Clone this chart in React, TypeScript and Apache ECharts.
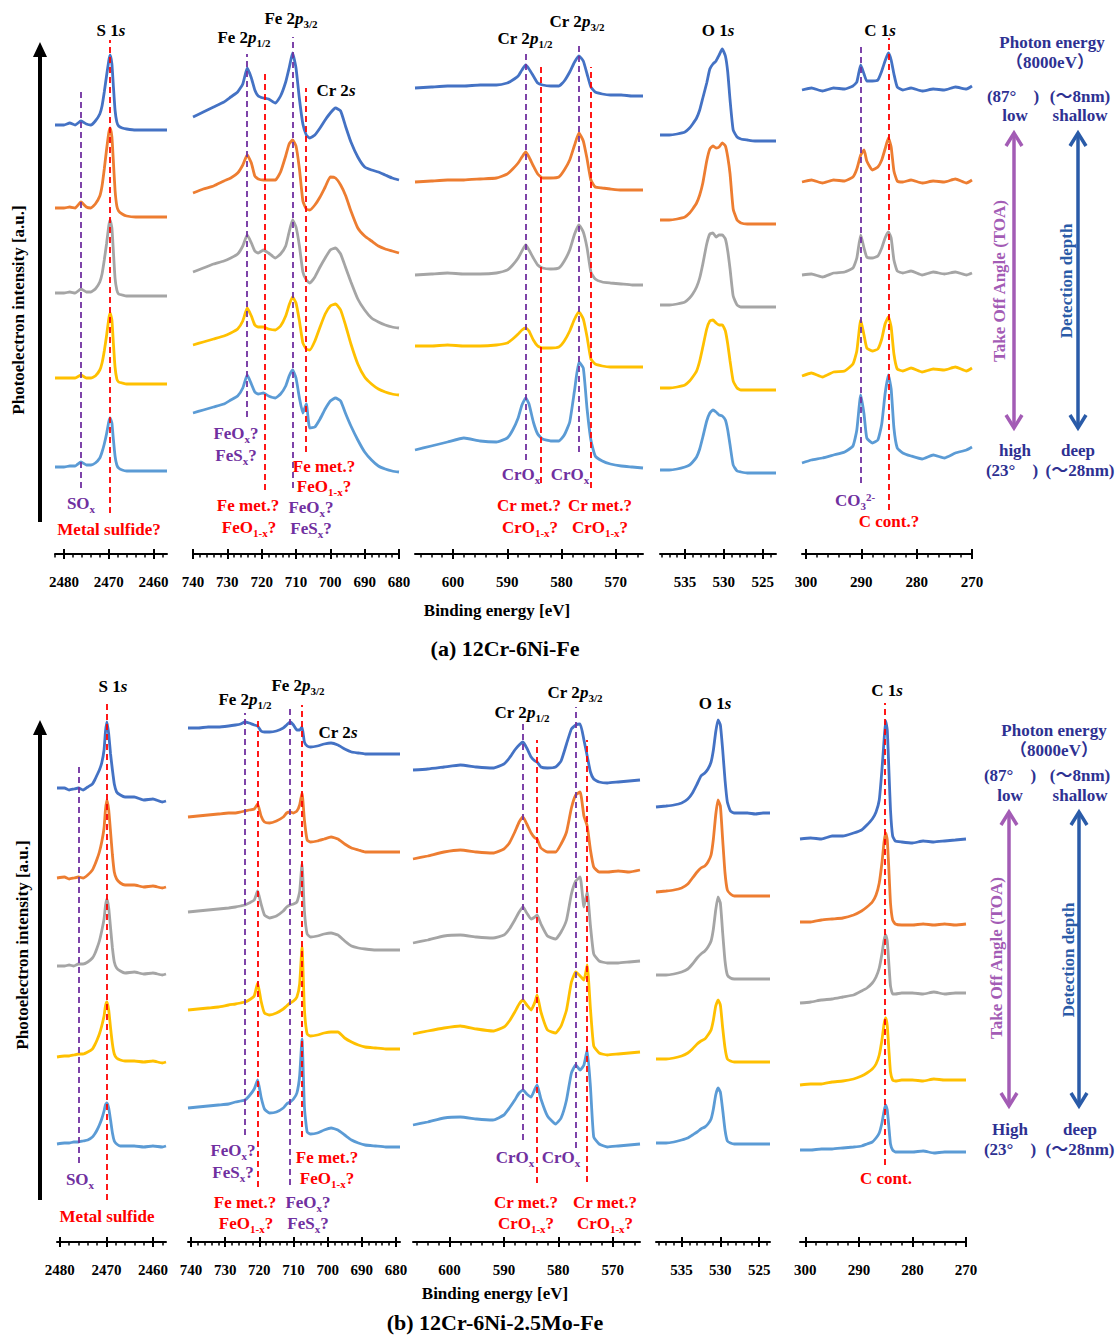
import React, { useEffect, useRef } from 'react';
import * as echarts from 'echarts';

const SERIF = '"Liberation Serif", "Times New Roman", "Noto Sans CJK JP", serif';
const COLORS = ['#4472C4', '#ED7D31', '#A5A5A5', '#FFC000', '#5B9BD5'];
const PURPLE = '#7030A0';
const RED = '#FF0000';
const NAVY = '#2E3192';
const TOA_C = '#A35CB5';
const DEPTH_C = '#2A5BA8';

// ---------- tick labels ----------
const S_TICKS = [2480, 2470, 2460];
const FE_TICKS = [740, 730, 720, 710, 700, 690, 680];
const CR_TICKS = [600, 590, 580, 570];
const O_TICKS = [535, 530, 525];
const C_TICKS = [300, 290, 280, 270];

// ---------- (a) 12Cr-6Ni-Fe : curves ordered [top(blue), orange, gray, yellow, bottom(light blue)] ----------
const S_A_E = [2482, 2480, 2478.7, 2477.5, 2476.2, 2475, 2474, 2473, 2472, 2471.5, 2471, 2470.5, 2470, 2469.7, 2469.3, 2469, 2468.6, 2468.2, 2467.8, 2467, 2466, 2464, 2462, 2460, 2458, 2457];
const S_A_BLUE = [8.9, 8.9, 9.1, 8.9, 9.3, 9.0, 8.9, 9.3, 10.0, 10.8, 12.2, 13.8, 15.3, 15.9, 15.0, 13.0, 10.4, 9.2, 8.8, 8.6, 8.5, 8.4, 8.4, 8.4, 8.4, 8.4];
const S_A_ORANGE = [9.1, 9.1, 9.2, 9.1, 9.7, 9.2, 9.1, 9.5, 10.3, 11.3, 13.0, 14.9, 16.6, 17.1, 16.2, 14.0, 10.9, 9.3, 8.8, 8.5, 8.3, 8.2, 8.2, 8.2, 8.2, 8.2];
const S_A_GRAY = [9.1, 9.1, 9.2, 9.1, 9.5, 9.2, 9.2, 9.5, 10.2, 11.0, 12.4, 14.0, 15.8, 16.4, 15.6, 13.5, 10.6, 9.4, 9.0, 8.9, 8.8, 8.8, 8.8, 8.8, 8.8, 8.8];
const S_A_YELLOW = [9.1, 9.1, 9.1, 9.1, 9.4, 9.1, 9.1, 9.3, 9.9, 10.6, 11.8, 13.3, 15.0, 15.6, 14.9, 12.8, 10.2, 9.0, 8.7, 8.6, 8.5, 8.5, 8.5, 8.5, 8.5, 8.5];
const S_A_LBLUE = [8.7, 8.7, 8.8, 8.8, 9.2, 8.9, 8.9, 9.1, 9.6, 10.2, 11.0, 12.0, 13.2, 13.6, 13.1, 11.6, 9.8, 8.9, 8.6, 8.4, 8.3, 8.3, 8.3, 8.3, 8.3, 8.3];

const FE_A_E = [740, 737, 734, 731, 729, 727, 725.5, 724.2, 723, 722, 721, 719.5, 718, 716, 714.5, 713, 712, 711, 710, 709, 708, 707, 706, 704.5, 703, 701.5, 700, 698.5, 697, 695.5, 694, 692, 690, 688, 686, 684, 682, 680];
const FE_A_BLUE = [9.7, 10.2, 10.7, 11.2, 11.7, 12.2, 13.0, 14.6, 13.6, 12.4, 11.8, 11.6, 11.5, 11.1, 11.8, 13.2, 14.6, 16.1, 14.6, 11.5, 9.0, 7.9, 7.6, 7.9, 8.6, 9.4, 10.1, 10.6, 10.3, 8.7, 7.2, 5.7, 4.7, 4.4, 4.2, 3.9, 3.6, 3.4];
const FE_A_ORANGE = [10.6, 11.0, 11.3, 11.8, 12.1, 12.6, 13.4, 14.4, 13.6, 12.3, 12.0, 11.9, 11.9, 11.9, 12.7, 14.3, 15.5, 15.9, 15.3, 13.0, 9.8, 9.0, 8.9, 9.4, 10.2, 11.2, 12.2, 12.1, 11.4, 10.3, 8.8, 7.1, 6.3, 5.8, 5.3, 5.0, 4.8, 4.6];
const FE_A_GRAY = [11.2, 11.6, 12.0, 12.3, 12.6, 13.0, 13.8, 14.9, 14.1, 13.3, 13.1, 13.4, 13.1, 12.6, 13.0, 13.8, 15.2, 16.4, 15.7, 13.8, 11.2, 10.4, 10.1, 10.7, 11.7, 12.6, 13.4, 13.6, 13.0, 11.6, 10.2, 8.5, 7.4, 6.6, 6.2, 5.9, 5.7, 5.6];
const FE_A_YELLOW = [12.4, 12.7, 13.0, 13.3, 13.6, 14.0, 14.8, 16.1, 15.3, 14.4, 14.2, 14.2, 14.0, 13.9, 14.3, 15.3, 16.4, 17.2, 16.6, 14.8, 12.6, 12.0, 11.9, 12.8, 14.2, 15.5, 16.3, 16.5, 15.9, 14.3, 12.5, 10.5, 9.2, 8.5, 8.0, 7.7, 7.5, 7.4];
const FE_A_LBLUE = [14.1, 14.4, 14.7, 15.0, 15.4, 15.8, 16.6, 17.9, 17.0, 16.2, 16.0, 16.1, 15.8, 15.6, 16.0, 16.8, 17.8, 18.4, 17.6, 15.6, 14.1, 15.0, 12.6, 12.7, 13.5, 14.5, 15.3, 15.6, 15.3, 14.0, 12.8, 11.4, 10.2, 9.4, 8.8, 8.5, 8.3, 8.2];

const CR_A_E = [607, 604, 601, 598, 595, 592, 590, 589, 588, 587.3, 586.6, 586, 585.2, 584.4, 583.5, 582, 580.5, 579.5, 578.5, 577.6, 576.8, 576, 575.3, 574.6, 573.8, 572.5, 571, 569, 567, 565];
const CR_A_BLUE = [12.6, 12.7, 12.8, 12.8, 12.9, 12.9, 13.1, 13.4, 13.8, 14.4, 14.9, 14.5, 13.8, 13.1, 12.9, 12.8, 12.8, 13.3, 14.2, 15.2, 15.8, 15.3, 14.0, 12.7, 12.2, 12.0, 11.9, 11.9, 11.8, 11.8];
const CR_A_ORANGE = [11.7, 11.8, 11.9, 11.9, 12.0, 12.1, 12.5, 13.0, 13.6, 14.2, 14.7, 14.2, 13.3, 12.5, 12.1, 12.1, 12.2, 12.9, 13.9, 15.4, 16.6, 15.8, 14.0, 11.9, 11.2, 11.1, 11.0, 10.9, 10.9, 10.9];
const CR_A_GRAY = [10.9, 11.0, 11.1, 11.0, 11.0, 11.1, 11.4, 11.9, 12.6, 13.3, 13.9, 13.4, 12.6, 11.9, 11.6, 11.5, 11.6, 12.3, 13.4, 15.0, 15.9, 15.2, 13.6, 11.2, 10.5, 10.2, 10.1, 10.0, 9.9, 9.9];
const CR_A_YELLOW = [12.3, 12.3, 12.4, 12.3, 12.3, 12.4, 12.6, 13.0, 13.5, 13.9, 14.1, 13.8, 12.9, 12.3, 12.1, 12.1, 12.2, 12.8, 13.8, 15.0, 15.7, 15.0, 13.2, 11.0, 10.5, 10.3, 10.2, 10.2, 10.2, 10.2];
const CR_A_LBLUE = [10.4, 10.8, 11.2, 11.6, 11.3, 11.2, 11.6, 12.4, 13.6, 14.9, 15.6, 15.0, 13.2, 12.0, 11.5, 11.3, 11.3, 11.9, 13.2, 16.4, 19.2, 18.6, 14.5, 11.4, 9.8, 9.3, 9.0, 8.8, 8.7, 8.6];

const O_A_E = [538.2, 537, 536, 535, 534.4, 534, 533.5, 533.1, 532.7, 532.2, 531.8, 531.4, 531, 530.6, 530.2, 529.8, 529.5, 529.2, 528.8, 528.3, 527.8, 527, 526, 525, 524, 523.3];
const O_A_BLUE = [7.9, 7.9, 8.0, 8.2, 8.6, 9.0, 9.6, 10.4, 11.6, 13.1, 14.5, 15.0, 15.3, 15.9, 16.5, 15.8, 14.2, 11.4, 8.4, 7.7, 7.5, 7.4, 7.3, 7.3, 7.3, 7.3];
const O_A_ORANGE = [7.9, 7.9, 8.0, 8.2, 8.6, 9.0, 9.6, 10.4, 11.6, 13.8, 15.0, 15.3, 15.1, 15.2, 15.6, 15.3, 14.2, 12.5, 9.0, 7.9, 7.6, 7.5, 7.5, 7.5, 7.5, 7.5];
const O_A_GRAY = [7.9, 7.9, 8.0, 8.2, 8.6, 9.0, 9.7, 10.6, 12.0, 14.0, 15.0, 15.1, 14.7, 14.9, 14.9, 14.5, 13.3, 11.5, 8.8, 7.9, 7.7, 7.7, 7.7, 7.7, 7.7, 7.7];
const O_A_YELLOW = [8.1, 8.1, 8.2, 8.4, 8.8, 9.2, 9.8, 10.8, 12.2, 14.0, 14.8, 14.9, 14.6, 14.4, 14.4, 13.8, 12.5, 10.8, 8.8, 8.1, 7.9, 7.9, 7.9, 7.9, 7.9, 7.9];
const O_A_LBLUE = [8.4, 8.4, 8.5, 8.7, 8.9, 9.2, 9.7, 10.5, 11.7, 13.3, 14.1, 14.4, 14.2, 13.9, 13.8, 13.4, 12.4, 10.9, 8.9, 8.3, 8.2, 8.1, 8.1, 8.1, 8.1, 8.1];

const C_A_E = [300.7, 299, 297, 295, 293, 291.5, 290.8, 290.1, 289.5, 289, 288, 287, 286.3, 285.7, 285.1, 284.6, 284.1, 283.5, 282.5, 281, 279, 277, 275, 273, 271, 270];
const C_A_BLUE = [12.4, 12.6, 12.3, 12.6, 12.5, 12.8, 13.2, 14.9, 14.0, 13.3, 13.3, 13.4, 14.3, 15.3, 16.1, 15.4, 14.0, 12.7, 12.4, 12.6, 12.3, 12.5, 12.4, 12.7, 12.5, 12.8];
const C_A_ORANGE = [11.7, 11.9, 11.6, 11.9, 11.8, 12.2, 13.0, 14.4, 14.9, 13.8, 12.9, 13.2, 13.9, 15.0, 16.1, 15.2, 12.8, 11.8, 11.7, 11.9, 11.6, 11.8, 11.7, 12.0, 11.6, 11.9];
const C_A_GRAY = [10.9, 11.0, 10.7, 11.1, 11.2, 11.6, 12.6, 14.9, 13.6, 12.7, 12.6, 12.8, 13.6, 14.6, 15.2, 14.6, 12.4, 11.3, 11.1, 11.3, 10.9, 11.2, 11.0, 11.2, 10.9, 11.1];
const C_A_YELLOW = [9.3, 9.6, 9.2, 9.7, 9.8, 10.5, 11.8, 14.9, 13.4, 12.1, 11.8, 12.0, 13.0, 14.5, 15.2, 14.2, 11.5, 10.0, 9.8, 10.1, 9.7, 10.0, 9.9, 10.2, 9.8, 10.1];
const C_A_LBLUE = [9.1, 9.4, 9.6, 9.9, 10.2, 10.8, 12.4, 15.9, 14.0, 11.6, 11.1, 11.4, 13.0, 16.0, 17.9, 16.5, 12.6, 10.6, 10.1, 9.8, 9.5, 9.9, 9.6, 10.1, 10.4, 10.7];

// ---------- (b) 12Cr-6Ni-2.5Mo-Fe ----------
const S_B_E = [2480.6, 2479, 2478, 2477, 2476, 2475, 2474, 2473, 2472.5, 2472, 2471.5, 2471, 2470.5, 2470.2, 2469.9, 2469.5, 2469.1, 2468.7, 2468.3, 2467.8, 2467, 2466, 2464, 2462, 2460, 2458, 2457.2];
const S_B_BLUE = [10.2, 10.2, 10.0, 10.1, 10.2, 10.0, 10.3, 10.6, 11.0, 11.5, 12.0, 12.7, 14.0, 15.8, 16.8, 15.6, 13.6, 12.0, 10.6, 9.8, 9.5, 9.3, 9.3, 9.0, 9.1, 8.8, 8.9];
const S_B_ORANGE = [10.0, 10.1, 9.9, 10.0, 10.1, 10.0, 10.3, 10.8, 11.3, 11.9, 12.6, 13.6, 15.0, 16.8, 17.8, 16.8, 14.6, 12.3, 10.6, 9.9, 9.5, 9.3, 9.3, 9.1, 9.2, 9.0, 9.1];
const S_B_GRAY = [10.0, 10.0, 10.1, 10.0, 10.2, 10.2, 10.4, 10.8, 11.2, 11.8, 12.5, 13.5, 14.7, 16.0, 16.7, 15.8, 13.8, 11.8, 10.4, 9.8, 9.5, 9.3, 9.4, 9.2, 9.3, 9.1, 9.2];
const S_B_YELLOW = [9.7, 9.8, 9.8, 9.9, 10.0, 10.0, 10.2, 10.5, 10.9, 11.4, 12.0, 12.8, 13.8, 14.8, 15.2, 14.4, 12.6, 11.0, 10.0, 9.6, 9.4, 9.3, 9.3, 9.2, 9.3, 9.1, 9.2];
const S_B_LBLUE = [9.8, 9.9, 9.9, 10.0, 10.0, 10.1, 10.2, 10.5, 10.8, 11.2, 11.7, 12.3, 13.1, 13.7, 13.9, 13.4, 12.2, 10.9, 10.1, 9.8, 9.6, 9.6, 9.6, 9.5, 9.6, 9.5, 9.6];

const FE_B_E = [740.9, 738, 735, 732, 729, 727, 725.5, 724.2, 723, 721.5, 720.5, 719.5, 718.5, 717, 715, 713, 712, 711, 710, 709, 708.2, 707.5, 706.8, 706, 705, 703, 701, 699, 697, 695, 693, 691, 689, 686, 683, 680, 678.8];
const FE_B_BLUE = [16.2, 16.2, 16.3, 16.3, 16.4, 16.5, 16.6, 16.8, 16.7, 16.5, 16.4, 15.9, 15.8, 15.8, 15.9, 16.2, 16.5, 16.8, 16.5, 16.0, 16.0, 16.3, 14.8, 14.4, 14.3, 14.4, 14.6, 14.7, 14.5, 14.1, 13.8, 13.7, 13.6, 13.6, 13.6, 13.6, 13.6];
const FE_B_ORANGE = [16.1, 16.2, 16.3, 16.4, 16.5, 16.5, 16.6, 16.7, 16.8, 16.9, 17.4, 16.2, 15.6, 15.5, 15.7, 16.1, 16.5, 16.6, 16.5, 16.7, 17.3, 18.5, 15.8, 13.8, 13.6, 13.7, 13.9, 14.1, 13.9, 13.4, 13.0, 12.8, 12.6, 12.6, 12.6, 12.6, 12.6];
const FE_B_GRAY = [15.4, 15.5, 15.6, 15.7, 15.8, 15.9, 16.0, 16.1, 16.3, 16.6, 17.5, 16.2, 15.1, 14.8, 15.0, 15.5, 15.9, 16.1, 16.2, 16.4, 17.4, 20.2, 15.5, 13.2, 12.9, 13.0, 13.2, 13.3, 13.1, 12.5, 12.0, 11.8, 11.7, 11.6, 11.6, 11.6, 11.6];
const FE_B_YELLOW = [14.4, 14.5, 14.6, 14.7, 14.9, 15.0, 15.1, 15.2, 15.4, 15.8, 17.1, 15.3, 14.1, 13.9, 14.1, 14.5, 14.8, 15.1, 15.3, 15.7, 17.0, 20.7, 14.5, 12.0, 11.8, 11.9, 12.1, 12.2, 12.2, 11.6, 11.2, 10.9, 10.7, 10.6, 10.5, 10.5, 10.5];
const FE_B_LBLUE = [13.4, 13.5, 13.6, 13.7, 13.8, 14.0, 14.1, 14.2, 14.6, 15.3, 16.2, 14.5, 13.3, 12.9, 13.0, 13.4, 13.8, 14.0, 14.3, 14.9, 16.6, 20.3, 13.5, 11.0, 10.8, 10.9, 11.2, 11.4, 11.2, 10.7, 10.2, 9.9, 9.7, 9.6, 9.5, 9.5, 9.5];

const CR_B_E = [606.7, 604, 601, 598, 595, 592, 590, 589, 588, 587.2, 586.5, 585.8, 585, 584.3, 583.9, 583.2, 582, 580.5, 579.5, 578.5, 577.6, 576.8, 576, 575.3, 574.7, 574.1, 573.5, 572.5, 571, 569, 567, 565];
const CR_B_BLUE = [12.0, 12.1, 12.3, 12.5, 12.3, 12.2, 12.6, 13.2, 14.0, 14.5, 14.8, 14.2, 13.3, 12.9, 12.8, 12.3, 12.2, 12.3, 12.9, 14.6, 16.1, 16.5, 16.6, 15.0, 13.4, 11.8, 11.1, 10.8, 10.7, 10.8, 10.9, 11.0];
const CR_B_ORANGE = [11.9, 12.2, 12.6, 12.8, 12.6, 12.5, 12.9, 13.5, 14.6, 15.6, 16.1, 15.4, 14.5, 14.0, 13.9, 13.0, 12.6, 12.6, 13.4, 14.6, 17.0, 18.3, 18.6, 16.2, 15.2, 12.8, 11.1, 10.6, 10.6, 10.7, 10.6, 10.8];
const CR_B_GRAY = [12.3, 12.6, 13.0, 13.1, 12.9, 12.8, 13.1, 13.7, 14.6, 15.4, 15.9, 15.3, 14.7, 14.9, 15.1, 14.2, 13.0, 12.7, 13.4, 14.6, 17.2, 18.5, 18.9, 15.9, 17.4, 14.0, 11.2, 10.5, 10.3, 10.3, 10.4, 10.5];
const CR_B_YELLOW = [12.0, 12.3, 12.6, 12.8, 12.5, 12.3, 12.7, 13.3, 14.2, 15.0, 15.4, 14.9, 14.4, 15.2, 15.9, 14.2, 12.4, 12.1, 12.8, 14.4, 17.2, 18.2, 17.8, 17.4, 18.9, 14.5, 10.8, 10.1, 9.9, 10.0, 10.1, 10.2];
const CR_B_LBLUE = [11.7, 12.0, 12.4, 12.5, 12.3, 12.2, 12.7, 13.4, 14.2, 14.9, 15.2, 14.8, 14.5, 15.3, 15.7, 14.3, 12.6, 11.8, 12.4, 14.2, 16.9, 17.7, 17.2, 17.7, 19.2, 15.5, 10.5, 9.8, 9.5, 9.6, 9.7, 9.8];

const O_B_E = [538.3, 537, 536, 535, 534.2, 533.6, 533, 532.5, 532, 531.6, 531.2, 530.9, 530.6, 530.3, 530, 529.7, 529.4, 529.1, 528.7, 528.2, 527.5, 526.5, 525.5, 524.5, 523.6];
const O_B_BLUE = [8.3, 8.4, 8.5, 8.7, 9.1, 9.7, 10.6, 11.4, 11.7, 12.1, 12.8, 14.0, 15.8, 17.0, 16.5, 14.0, 11.0, 8.8, 7.9, 7.7, 7.7, 7.7, 7.6, 7.7, 7.7];
const O_B_ORANGE = [8.6, 8.7, 8.8, 9.0, 9.4, 10.0, 10.6, 11.0, 11.2, 11.6, 12.3, 13.9, 16.3, 17.8, 17.2, 13.8, 10.5, 8.8, 8.4, 8.2, 8.2, 8.2, 8.2, 8.2, 8.2];
const O_B_GRAY = [9.1, 9.1, 9.2, 9.4, 9.7, 10.2, 10.8, 11.2, 11.5, 11.9, 12.5, 13.7, 15.6, 16.9, 16.3, 13.3, 10.5, 9.1, 8.8, 8.7, 8.7, 8.7, 8.7, 8.7, 8.7];
const O_B_YELLOW = [9.5, 9.5, 9.6, 9.8, 10.1, 10.5, 11.0, 11.3, 11.5, 11.9, 12.4, 13.4, 14.8, 15.4, 14.9, 12.6, 10.6, 9.5, 9.3, 9.2, 9.2, 9.2, 9.2, 9.2, 9.2];
const O_B_LBLUE = [9.9, 9.9, 10.0, 10.2, 10.4, 10.7, 11.0, 11.3, 11.5, 11.8, 12.3, 13.3, 14.7, 15.4, 15.0, 13.2, 11.2, 10.1, 9.9, 9.8, 9.8, 9.8, 9.8, 9.8, 9.8];

const C_B_E = [301, 299, 297, 295, 293, 291, 289.5, 288.5, 287.5, 286.8, 286.2, 285.7, 285.3, 285, 284.7, 284.4, 284.1, 283.7, 283.2, 282, 280, 278, 276, 274, 272, 270];
const C_B_BLUE = [5.1, 5.2, 5.1, 5.4, 5.4, 5.7, 6.0, 6.5, 7.1, 7.8, 9.0, 12.0, 15.0, 16.9, 16.0, 12.0, 8.0, 5.4, 4.9, 4.8, 4.7, 4.9, 4.8, 4.9, 5.0, 5.1];
const C_B_ORANGE = [5.6, 5.6, 5.8, 5.9, 6.0, 6.3, 6.7, 7.1, 7.6, 8.3, 9.5, 11.5, 13.6, 14.5, 13.8, 10.8, 7.5, 5.8, 5.4, 5.3, 5.3, 5.4, 5.3, 5.4, 5.3, 5.4];
const C_B_GRAY = [6.3, 6.4, 6.6, 6.7, 6.9, 7.1, 7.5, 7.8, 8.3, 8.9, 9.8, 11.2, 12.6, 13.1, 12.5, 10.2, 8.0, 7.2, 7.2, 7.3, 7.3, 7.2, 7.4, 7.2, 7.3, 7.3];
const C_B_YELLOW = [6.9, 7.0, 7.0, 7.2, 7.3, 7.5, 7.8, 8.1, 8.5, 9.0, 9.9, 11.4, 13.0, 13.6, 12.8, 10.4, 8.2, 7.4, 7.3, 7.4, 7.4, 7.3, 7.5, 7.4, 7.4, 7.4];
const C_B_LBLUE = [9.2, 9.2, 9.3, 9.3, 9.4, 9.5, 9.6, 9.8, 10.0, 10.4, 10.9, 11.9, 13.1, 13.7, 13.2, 11.5, 9.8, 9.2, 9.0, 9.0, 9.0, 9.1, 8.9, 9.0, 9.0, 9.0];

// ---------- reference (dashed) lines: [energy, from, to, kind] ----------
type VLine = [number, number, number, string];
const S_A_LINES: VLine[] = [[2476.2, 6.6, 46.4, 'p'], [2469.8, 4.1, 51.4, 'r']];
const FE_A_LINES: VLine[] = [[724.2, 13.7, 50.0, 'p'], [719.2, 6.4, 48.1, 'r'], [711.0, 6.6, 51.7, 'p'], [707.3, 10.2, 46.6, 'r']];
const CR_A_LINES: VLine[] = [[586.6, 9.4, 50.4, 'p'], [583.8, 7.1, 49.1, 'r'], [576.8, 10.2, 51.2, 'p'], [574.6, 6.6, 48.7, 'r']];
const C_A_LINES: VLine[] = [[290.1, 7.1, 51.1, 'p'], [285.1, 4.4, 51.6, 'r']];
const S_B_LINES: VLine[] = [[2476.0, 7.9, 47.7, 'p'], [2469.9, 4.2, 53.9, 'r']];
const FE_B_LINES: VLine[] = [[724.2, 10.7, 52.9, 'p'], [720.5, 5.5, 52.2, 'r'], [711.0, 5.7, 53.5, 'p'], [707.5, 10.5, 53.7, 'r']];
const CR_B_LINES: VLine[] = [[586.5, 10.2, 51.9, 'p'], [583.9, 5.9, 50.2, 'r'], [576.8, 9.4, 53.5, 'p'], [574.7, 6.0, 50.2, 'r']];
const C_B_LINES: VLine[] = [[285.1, 7.7, 53.9, 'r']];
const NO_LINES: VLine[] = [];

const HALF_TOP = [14, 702];
const GRID_H = 540;
const Y_MAX = 54;
const ROW_STEP = [8.5, 8.8];

const PANELS = [
  { half: 0, e: S_A_E, c: [S_A_BLUE, S_A_ORANGE, S_A_GRAY, S_A_YELLOW, S_A_LBLUE], min: 2457, max: 2482, left: 55, width: 112, ticks: S_TICKS, step: 2, lines: S_A_LINES },
  { half: 0, e: FE_A_E, c: [FE_A_BLUE, FE_A_ORANGE, FE_A_GRAY, FE_A_YELLOW, FE_A_LBLUE], min: 680, max: 740, left: 193, width: 206, ticks: FE_TICKS, step: 2, lines: FE_A_LINES },
  { half: 0, e: CR_A_E, c: [CR_A_BLUE, CR_A_ORANGE, CR_A_GRAY, CR_A_YELLOW, CR_A_LBLUE], min: 565, max: 607, left: 415, width: 228, ticks: CR_TICKS, step: 2, lines: CR_A_LINES },
  { half: 0, e: O_A_E, c: [O_A_BLUE, O_A_ORANGE, O_A_GRAY, O_A_YELLOW, O_A_LBLUE], min: 523.3, max: 538.2, left: 660, width: 116, ticks: O_TICKS, step: 1, lines: NO_LINES },
  { half: 0, e: C_A_E, c: [C_A_BLUE, C_A_ORANGE, C_A_GRAY, C_A_YELLOW, C_A_LBLUE], min: 270, max: 300.7, left: 802, width: 170, ticks: C_TICKS, step: 2, lines: C_A_LINES },
  { half: 1, e: S_B_E, c: [S_B_BLUE, S_B_ORANGE, S_B_GRAY, S_B_YELLOW, S_B_LBLUE], min: 2457.2, max: 2480.6, left: 57, width: 109, ticks: S_TICKS, step: 2, lines: S_B_LINES },
  { half: 1, e: FE_B_E, c: [FE_B_BLUE, FE_B_ORANGE, FE_B_GRAY, FE_B_YELLOW, FE_B_LBLUE], min: 678.8, max: 740.9, left: 188, width: 212, ticks: FE_TICKS, step: 2, lines: FE_B_LINES },
  { half: 1, e: CR_B_E, c: [CR_B_BLUE, CR_B_ORANGE, CR_B_GRAY, CR_B_YELLOW, CR_B_LBLUE], min: 565, max: 606.7, left: 413, width: 227, ticks: CR_TICKS, step: 2, lines: CR_B_LINES },
  { half: 1, e: O_B_E, c: [O_B_BLUE, O_B_ORANGE, O_B_GRAY, O_B_YELLOW, O_B_LBLUE], min: 523.6, max: 538.3, left: 656, width: 114, ticks: O_TICKS, step: 1, lines: NO_LINES },
  { half: 1, e: C_B_E, c: [C_B_BLUE, C_B_ORANGE, C_B_GRAY, C_B_YELLOW, C_B_LBLUE], min: 270, max: 301, left: 800, width: 166, ticks: C_TICKS, step: 2, lines: C_B_LINES },
];

function richFor(color: string, size: number) {
  const s = Math.round(size * 0.65);
  const base = { fill: color, fontFamily: SERIF, fontWeight: 'bold' };
  return {
    n: { ...base, fontSize: size, lineHeight: size, verticalAlign: 'top', padding: [0, 0, 0, 0] },
    i: { ...base, fontStyle: 'italic', fontSize: size, lineHeight: size, verticalAlign: 'top', padding: [0, 0, 0, 0] },
    sub: { ...base, fontSize: s, lineHeight: s, verticalAlign: 'top', padding: [Math.round(size * 0.5), 0, 0, 0] },
    sup: { ...base, fontSize: s, lineHeight: s, verticalAlign: 'top', padding: [0, 0, 0, 0] },
  };
}

function txt(x: number, y: number, text: string, color = '#000', size = 17, rotate = false) {
  const style: any = {
    text, fill: color, align: 'center', verticalAlign: 'middle',
    fontFamily: SERIF, fontWeight: 'bold', fontSize: size,
  };
  if (text.indexOf('{') >= 0) style.rich = richFor(color, size);
  return { type: 'text', x, y, rotation: rotate ? Math.PI / 2 : 0, silent: true, z: 100, style };
}

function seg(x1: number, y1: number, x2: number, y2: number, color: string, w: number) {
  return { type: 'line', silent: true, z: 100, shape: { x1, y1, x2, y2 }, style: { stroke: color, lineWidth: w } };
}

function dblArrow(x: number, y1: number, y2: number, color: string) {
  return [
    seg(x, y1 + 1, x, y2 - 1, color, 3.5),
    { type: 'polyline', silent: true, z: 100, shape: { points: [[x - 8, y1 + 13], [x, y1], [x + 8, y1 + 13]] }, style: { stroke: color, lineWidth: 3.5, fill: 'none' } },
    { type: 'polyline', silent: true, z: 100, shape: { points: [[x - 8, y2 - 13], [x, y2], [x + 8, y2 - 13]] }, style: { stroke: color, lineWidth: 3.5, fill: 'none' } },
  ];
}

function upArrow(x: number, tip: number, bottom: number) {
  return [
    seg(x, tip + 12, x, bottom, '#000', 4),
    { type: 'polygon', silent: true, z: 100, shape: { points: [[x - 7, tip + 15], [x, tip], [x + 7, tip + 15]] }, style: { fill: '#000' } },
  ];
}

const FE12 = '{n|Fe 2}{i|p}{sub|1/2}';
const FE32 = '{n|Fe 2}{i|p}{sub|3/2}';
const CR12 = '{n|Cr 2}{i|p}{sub|1/2}';
const CR32 = '{n|Cr 2}{i|p}{sub|3/2}';
const FEOX = '{n|FeO}{sub|x}{n|?}';
const FESX = '{n|FeS}{sub|x}{n|?}';
const FEO1X = '{n|FeO}{sub|1-x}{n|?}';
const CROX = '{n|CrO}{sub|x}';
const CRO1X = '{n|CrO}{sub|1-x}{n|?}';

function buildGraphics() {
  const g: any[] = [];
  // ---- (a) ----
  g.push(...upArrow(40, 42, 522));
  g.push(txt(18, 310, 'Photoelectron intensity [a.u.]', '#000', 17, true));
  g.push(txt(111, 30, '{n|S 1}{i|s}', '#000', 17));
  g.push(txt(244, 37, FE12, '#000', 17));
  g.push(txt(291, 18, FE32, '#000', 17));
  g.push(txt(336, 90, '{n|Cr 2}{i|s}', '#000', 17));
  g.push(txt(525, 38, CR12, '#000', 17));
  g.push(txt(577, 21, CR32, '#000', 17));
  g.push(txt(718, 30, '{n|O 1}{i|s}', '#000', 17));
  g.push(txt(880, 30, '{n|C 1}{i|s}', '#000', 17));
  g.push(txt(81, 503, '{n|SO}{sub|x}', PURPLE));
  g.push(txt(109, 529, 'Metal sulfide?', RED));
  g.push(txt(236, 433, FEOX, PURPLE));
  g.push(txt(236, 455, FESX, PURPLE));
  g.push(txt(248, 505, 'Fe met.?', RED));
  g.push(txt(249, 527, FEO1X, RED));
  g.push(txt(311, 507, FEOX, PURPLE));
  g.push(txt(311, 528, FESX, PURPLE));
  g.push(txt(324, 466, 'Fe met.?', RED));
  g.push(txt(324, 486, FEO1X, RED));
  g.push(txt(521, 474, CROX, PURPLE));
  g.push(txt(570, 474, CROX, PURPLE));
  g.push(txt(529, 505, 'Cr met.?', RED));
  g.push(txt(530, 527, CRO1X, RED));
  g.push(txt(600, 505, 'Cr met.?', RED));
  g.push(txt(600, 527, CRO1X, RED));
  g.push(txt(855, 500, '{n|CO}{sub|3}{sup|2-}', PURPLE));
  g.push(txt(889, 521, 'C cont.?', RED));
  g.push(txt(1052, 42, 'Photon energy', NAVY));
  g.push(txt(1050, 62, '（8000eV）', NAVY));
  g.push(txt(1013, 96, '(87°\u3000)', NAVY));
  g.push(txt(1080, 96, '(～8nm)', NAVY));
  g.push(txt(1015, 115, 'low', NAVY));
  g.push(txt(1080, 115, 'shallow', NAVY));
  g.push(txt(1015, 450, 'high', NAVY));
  g.push(txt(1078, 450, 'deep', NAVY));
  g.push(txt(1012, 470, '(23°\u3000)', NAVY));
  g.push(txt(1080, 470, '(～28nm)', NAVY));
  g.push(...dblArrow(1014, 133, 428, TOA_C));
  g.push(...dblArrow(1078, 133, 428, DEPTH_C));
  g.push(txt(999, 281, 'Take Off Angle (TOA)', TOA_C, 17, true));
  g.push(txt(1066, 281, 'Detection depth', DEPTH_C, 17, true));
  g.push(txt(497, 610, 'Binding energy [eV]', '#000', 17));
  g.push(txt(505, 648, '(a) 12Cr-6Ni-Fe', '#000', 22));

  // ---- (b) ----
  g.push(...upArrow(40, 720, 1200));
  g.push(txt(22, 945, 'Photoelectron intensity [a.u.]', '#000', 17, true));
  g.push(txt(113, 686, '{n|S 1}{i|s}', '#000', 17));
  g.push(txt(245, 699, FE12, '#000', 17));
  g.push(txt(298, 685, FE32, '#000', 17));
  g.push(txt(338, 732, '{n|Cr 2}{i|s}', '#000', 17));
  g.push(txt(522, 712, CR12, '#000', 17));
  g.push(txt(575, 692, CR32, '#000', 17));
  g.push(txt(715, 703, '{n|O 1}{i|s}', '#000', 17));
  g.push(txt(887, 690, '{n|C 1}{i|s}', '#000', 17));
  g.push(txt(80, 1179, '{n|SO}{sub|x}', PURPLE));
  g.push(txt(107, 1216, 'Metal sulfide', RED));
  g.push(txt(233, 1150, FEOX, PURPLE));
  g.push(txt(233, 1172, FESX, PURPLE));
  g.push(txt(245, 1202, 'Fe met.?', RED));
  g.push(txt(246, 1223, FEO1X, RED));
  g.push(txt(308, 1202, FEOX, PURPLE));
  g.push(txt(308, 1223, FESX, PURPLE));
  g.push(txt(327, 1157, 'Fe met.?', RED));
  g.push(txt(327, 1178, FEO1X, RED));
  g.push(txt(515, 1157, CROX, PURPLE));
  g.push(txt(561, 1157, CROX, PURPLE));
  g.push(txt(526, 1202, 'Cr met.?', RED));
  g.push(txt(526, 1223, CRO1X, RED));
  g.push(txt(605, 1202, 'Cr met.?', RED));
  g.push(txt(605, 1223, CRO1X, RED));
  g.push(txt(886, 1178, 'C cont.', RED));
  g.push(txt(1054, 730, 'Photon energy', NAVY));
  g.push(txt(1054, 750, '（8000eV）', NAVY));
  g.push(txt(1010, 775, '(87°\u3000)', NAVY));
  g.push(txt(1080, 775, '(～8nm)', NAVY));
  g.push(txt(1010, 795, 'low', NAVY));
  g.push(txt(1080, 795, 'shallow', NAVY));
  g.push(txt(1010, 1129, 'High', NAVY));
  g.push(txt(1080, 1129, 'deep', NAVY));
  g.push(txt(1010, 1149, '(23°\u3000)', NAVY));
  g.push(txt(1080, 1149, '(～28nm)', NAVY));
  g.push(...dblArrow(1009, 812, 1106, TOA_C));
  g.push(...dblArrow(1079, 812, 1106, DEPTH_C));
  g.push(txt(996, 958, 'Take Off Angle (TOA)', TOA_C, 17, true));
  g.push(txt(1068, 960, 'Detection depth', DEPTH_C, 17, true));
  g.push(txt(495, 1293, 'Binding energy [eV]', '#000', 17));
  g.push(txt(495, 1322, '(b) 12Cr-6Ni-2.5Mo-Fe', '#000', 22));
  return g;
}

function buildOption() {
  const grid: any[] = [];
  const xAxis: any[] = [];
  const yAxis: any[] = [];
  const series: any[] = [];
  PANELS.forEach((p, gi) => {
    grid.push({ left: p.left, width: p.width, top: HALF_TOP[p.half], height: GRID_H, outerBoundsMode: 'none', containLabel: false });
    const minors: number[] = [];
    for (let v = Math.ceil(p.min / p.step) * p.step; v <= p.max + 1e-9; v += p.step) {
      if (p.ticks.indexOf(v) < 0) minors.push(v);
    }
    const base = { type: 'value', gridIndex: gi, min: p.min, max: p.max, inverse: true, position: 'bottom', offset: 0, splitLine: { show: false }, axisPointer: { show: false } };
    xAxis.push({
      ...base,
      axisLine: { show: true, onZero: false, lineStyle: { color: '#000', width: 2 } },
      axisTick: { show: true, customValues: p.ticks, length: 5, lineStyle: { color: '#000', width: 2 } },
      axisLabel: { show: true, customValues: p.ticks, margin: 20, fontFamily: SERIF, fontWeight: 'bold', fontSize: 15, color: '#000', formatter: (v: number) => String(v) },
    });
    xAxis.push({
      ...base,
      axisLine: { show: false, onZero: false },
      axisTick: { show: true, inside: true, customValues: p.ticks, length: 5, lineStyle: { color: '#000', width: 2 } },
      axisLabel: { show: false },
    });
    xAxis.push({
      ...base,
      axisLine: { show: false, onZero: false },
      axisTick: { show: true, customValues: minors, length: 3.5, lineStyle: { color: '#000', width: 1.5 } },
      axisLabel: { show: false },
    });
    yAxis.push({ type: 'value', gridIndex: gi, min: 0, max: Y_MAX, show: false });
    p.c.forEach((vals, i) => {
      const row = 4 - i;
      series.push({
        type: 'line',
        xAxisIndex: gi * 3,
        yAxisIndex: gi,
        data: p.e.map((e, k) => [e, vals[k] + row * ROW_STEP[p.half]]),
        showSymbol: false,
        symbol: 'none',
        smooth: 0.15,
        lineStyle: { color: COLORS[i], width: 2.8 },
        itemStyle: { color: COLORS[i] },
        silent: true,
        z: 2,
      });
    });
    if (p.lines.length) {
      series.push({
        type: 'line',
        xAxisIndex: gi * 3,
        yAxisIndex: gi,
        data: [],
        silent: true,
        z: 5,
        markLine: {
          silent: true,
          symbol: ['none', 'none'],
          label: { show: false },
          animation: false,
          lineStyle: { type: [6, 4], width: 1.8 },
          data: p.lines.map(([e, y1, y2, k]) => [
            { coord: [e, y1], lineStyle: { color: k === 'p' ? PURPLE : RED, type: [6, 4], width: 1.8 } },
            { coord: [e, y2] },
          ]),
        },
      });
    }
  });
  return {
    animation: false,
    backgroundColor: '#ffffff',
    grid,
    xAxis,
    yAxis,
    series,
    graphic: { elements: buildGraphics() },
  };
}

export default function App() {
  const ref = useRef<HTMLDivElement>(null);
  useEffect(() => {
    if (!ref.current) return;
    const chart = echarts.init(ref.current, undefined, { renderer: 'svg' });
    chart.setOption(buildOption() as any);
    return () => chart.dispose();
  }, []);
  return <div ref={ref} style={{ position: 'absolute', left: 0, top: 0, width: 1120, height: 1335, background: '#fff' }} />;
}
